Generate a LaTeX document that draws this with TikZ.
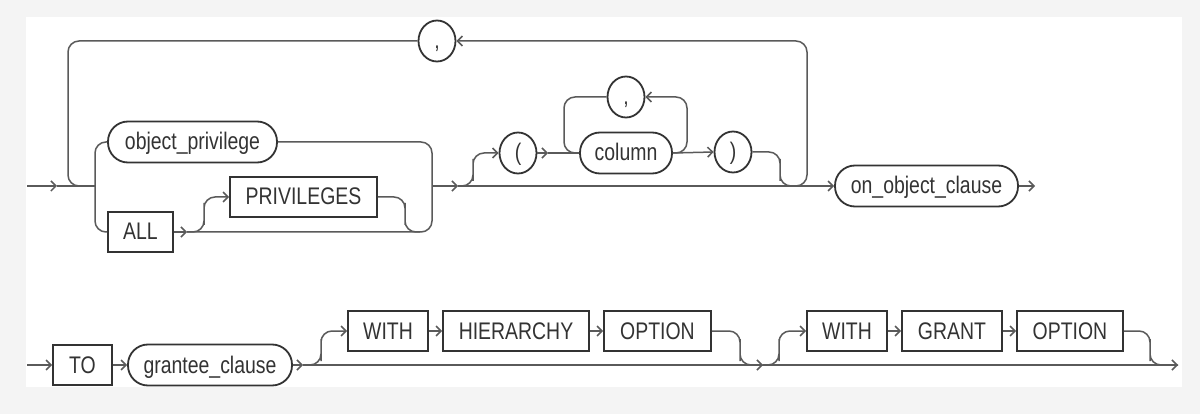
\documentclass[tikz,border=0pt]{standalone}
\usepackage{fontspec}
\setmainfont[FakeStretch=0.81]{Liberation Sans}
\usepackage{xcolor}
\usepackage{tikz}
\usetikzlibrary{arrows.meta,shapes.geometric}
\definecolor{C333333}{HTML}{333333}
\definecolor{C5A5A5A}{HTML}{5A5A5A}
\definecolor{CF4F4F4}{HTML}{F4F4F4}
\definecolor{CFFFFFF}{HTML}{FFFFFF}

\begin{document}
\begin{tikzpicture}[x=1pt,y=-1pt,inner sep=0pt,
  kw/.style={draw=C333333,line width=1.8pt,shape=rectangle,minimum height=40pt,text height=17pt,text depth=1pt,font=\fontsize{24}{25}\selectfont,text=C333333},
  nt/.style={kw,rounded corners=20pt,minimum height=41pt},
  sym/.style={kw,shape=ellipse,minimum width=37pt,minimum height=41pt},
  rail/.style={draw=C5A5A5A,line width=1.5pt,rounded corners=11pt},
  >={Straight Barb[length=5pt,width=10pt]}]
\fill[CF4F4F4] (0,0) rectangle (1200,414);
\fill[CFFFFFF] (26,17) rectangle (1182,387);
\useasboundingbox (0,0) rectangle (1200,414);

\node (n0) [sym, at={(437,41)}] {,};
\node (n1) [nt, minimum width=169pt, at={(192.5,142)}] {object\_privilege};
\node (n2) [kw, minimum width=65pt, at={(140.5,232)}] {ALL};
\node (n3) [kw, minimum width=147pt, at={(303.5,197)}] {PRIVILEGES};
\node (n4) [sym, at={(518,153)}] {(};
\node (n5) [nt, minimum width=92pt, at={(626,153)}] {column};
\node (n6) [sym, at={(626,97)}] {,};
\node (n7) [sym, at={(733,152)}] {)};
\node (n8) [nt, minimum width=183pt, at={(926.5,186)}] {on\_object\_clause};

\node (n9) [kw, minimum width=59pt, at={(82.5,365)}] {TO};
\node (n10) [nt, minimum width=164pt, at={(210,365)}] {grantee\_clause};
\node (n11) [kw, minimum width=80pt, at={(388,331)}] {WITH};
\node (n12) [kw, minimum width=146pt, at={(516,331)}] {HIERARCHY};
\node (n13) [kw, minimum width=107pt, at={(657.5,331)}] {OPTION};
\node (n14) [kw, minimum width=80pt, at={(847,331)}] {WITH};
\node (n15) [kw, minimum width=100pt, at={(952,331)}] {GRANT};
\node (n16) [kw, minimum width=106pt, at={(1070,331)}] {OPTION};

\coordinate (c0) at (27,186);
\coordinate (c1) at (57,186);
\coordinate (c2) at (95,186);
\coordinate (c3) at (432,186);
\coordinate (c4) at (458,186);
\coordinate (c5) at (807,186);
\coordinate (c6) at (1035,186);
\coordinate (c7) at (68,186);
\coordinate (c8) at (84,186);
\coordinate (c9) at (432,232);
\coordinate (c10) at (187,232);
\coordinate (c11) at (204,214);
\coordinate (c12) at (405,214);
\coordinate (c13) at (420,232);
\coordinate (c14) at (473,170);
\coordinate (c15) at (548,153);
\coordinate (c16) at (687,125);
\coordinate (c17) at (564,125);
\coordinate (c18) at (780,170);
\coordinate (c19) at (796,186);
\coordinate (c20) at (792,186);

\coordinate (d0) at (27,365);
\coordinate (d1) at (303,365);
\coordinate (d2) at (763,365);
\coordinate (d3) at (1178,365);
\coordinate (d4) at (321,350);
\coordinate (d5) at (740,350);
\coordinate (d6) at (779,350);
\coordinate (d7) at (1150,350);

\path [->,rail] (c0)--(c1);
\path [rail] (c1)--(c2);
\path [<-,rail] (n0.east) -| (c5) -- (c20);
\path [rail] (n0.west) -| (c7) -- (c8);
\path [rail] (n1.west) -| (c2) |- (n2.west);
\path [->,rail] (n2.east)--(c10);
\path [rail] (n1.east) -| (c9) -- (c10);
\path [->,rail] (c10) -| (c11) |- (n3.west);
\path [rail] (n3.east) -| (c12) |- (c13);
\path [->,rail] (c3)--(c4);
\path [->,rail] (c4)--(n8.west);
\path [->,rail] (c4) -| (c14) |- (n4.west);
\path [->,rail] (n4.east)--(c15);
\path [rail] (c15)--(n5.west);
\path [<-,rail] (n6.east) -| (c16) |- (n5.east);
\path [rail] (n6.west) -| (c17) |- (n5.west);
\path [->,rail] (n5.east)--(n7.west);
\path [rail] (n7.east) -| (c18) |- (c19);
\path [->,rail] (n8.east)--(c6);

\path [->,rail] (d0)--(n9.west);
\path [->,rail] (n9.east)--(n10.west);
\path [->,rail] (n10.east)--(d1);
\path [->,rail] (d1)--(d2);
\path [->,rail] (d2)--(d3);
\path [->,rail] (d1) -| (d4) |- (n11.west);
\path [->,rail] (n11.east)--(n12.west);
\path [->,rail] (n12.east)--(n13.west);
\path [rail] (n13.east) -| (d5) |- (d2);
\path [->,rail] (d2) -| (d6) |- (n14.west);
\path [->,rail] (n14.east)--(n15.west);
\path [->,rail] (n15.east)--(n16.west);
\path [rail] (n16.east) -| (d7) |- (d3);
\end{tikzpicture}
\end{document}
